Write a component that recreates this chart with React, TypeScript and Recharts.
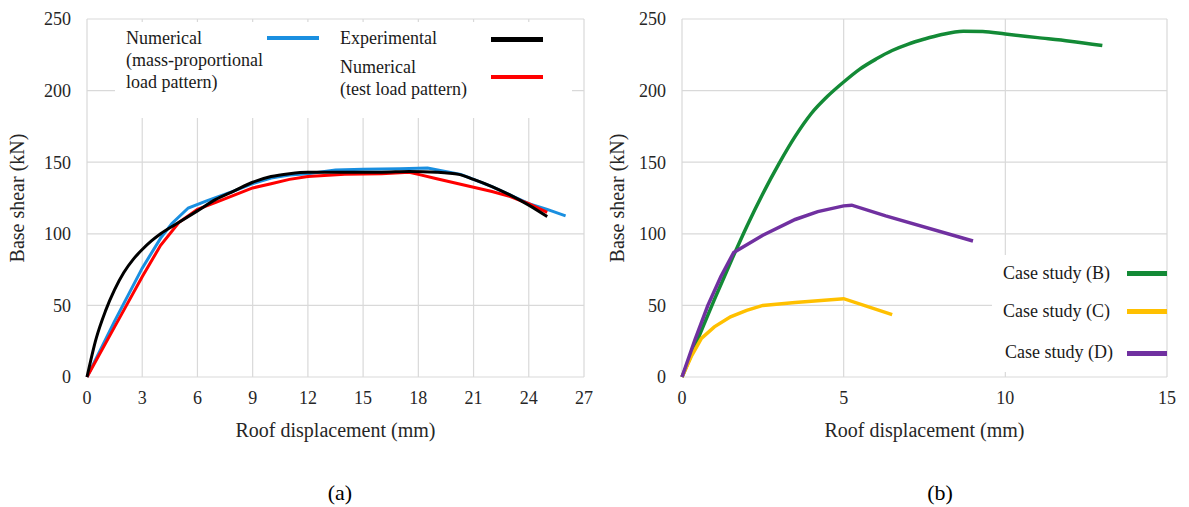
import React from 'react';
import { LineChart, Line, XAxis, YAxis, CartesianGrid } from 'recharts';

// ---------- Data: panel (a) ----------
const expX = [0, 0.5, 1.0, 1.5, 2.0, 2.5, 3.0, 3.5, 4.0, 5.0, 6.0, 7, 8, 9, 10, 11, 12, 14, 16, 17.5, 19, 20.2, 21, 22, 23, 24, 25];
const expY = [0, 27, 46, 61, 73, 82, 89, 95, 100, 108, 116, 124, 130, 136, 140, 142, 143, 143, 143, 143.5, 143, 141.5, 138, 133, 127, 120, 112];

const massX = [0, 1.5, 3, 4, 4.6, 5.5, 6.5, 8, 9, 10, 11, 12, 13.5, 15, 17, 18.5, 20.3, 21, 22, 23, 24, 25, 26];
const massY = [0, 39, 76, 97, 107, 118, 123, 130, 135, 139, 141, 142, 144.5, 145, 145.5, 146, 141.5, 138, 133, 127, 121, 117, 112.5];

const testX = [0, 1.5, 3, 4, 5, 6, 7, 8, 9, 10, 11, 12, 14, 16, 17.5, 18, 19, 20, 21, 22, 23, 24, 25];
const testY = [0, 35, 70, 92, 108, 117, 122, 127, 132, 135, 138, 140, 141.5, 142, 143, 141.5, 138.5, 135.5, 132.5, 129.5, 126, 121, 115];

const ticksA = [0, 3, 6, 9, 12, 15, 18, 21, 24, 27];

// ---------- Data: panel (b) ----------
const caseBX = [0, 0.5, 1, 1.5, 2, 2.5, 3, 3.5, 4, 4.5, 5, 5.5, 6, 6.5, 7, 7.5, 8, 8.7, 9.3, 10, 11, 12, 13];
const caseBY = [0, 27, 54, 80, 105, 128, 149, 168, 184, 196, 206, 215, 222, 228, 232.5, 236, 239, 241.5, 241.3, 239.5, 237, 234.5, 231.5];

const caseCX = [0, 0.3, 0.6, 1, 1.5, 2, 2.5, 3.5, 5, 6.5];
const caseCY = [0, 15, 27, 35, 42, 46.5, 50, 52, 54.7, 43.5];

const caseDX = [0, 0.4, 0.8, 1.2, 1.6, 2.5, 3.5, 4.2, 5.0, 5.25, 6.3, 9.0];
const caseDY = [0, 26, 50, 70, 87, 99, 110, 115.5, 119.5, 120, 112.5, 95];

const ticksB = [0, 5, 10, 15];
const yTicks = [0, 50, 100, 150, 200, 250];

const xTitle = 'Roof displacement (mm)';
const yTitle = 'Base shear (kN)';

const FONT = "'Liberation Serif', 'Times New Roman', serif";
const GRID = '#d9d9d9';
const TXT = '#262626';

const zip = (xs: number[], ys: number[]) => xs.map((x, i) => ({ x, y: ys[i] }));

type S = { data: { x: number; y: number }[]; color: string; type: 'linear' | 'monotone'; width: number };

function Panel(props: { left: number; width: number; xMax: number; xTicks: number[]; series: S[]; marginRight: number; yOff: number }) {
  const { left, width, xMax, xTicks, series, marginRight, yOff } = props;
  return (
    <div style={{ position: 'absolute', left, top: 0 }}>
      <LineChart width={width} height={460} margin={{ top: 19, right: marginRight, bottom: 23, left: 0 }}>
        <CartesianGrid stroke={GRID} strokeWidth={1.2} />
        <XAxis
          type="number"
          dataKey="x"
          domain={[0, xMax]}
          ticks={xTicks}
          interval={0}
          axisLine={false}
          tickLine={false}
          tickSize={0}
          tickMargin={14}
          height={60}
          tick={{ fontSize: 18, fontFamily: FONT, fill: TXT }}
          label={{ value: xTitle, position: 'insideBottom', offset: 0, style: { fontSize: 20, fontFamily: FONT, fill: TXT } }}
        />
        <YAxis
          type="number"
          dataKey="y"
          domain={[0, 250]}
          ticks={yTicks}
          interval={0}
          axisLine={false}
          tickLine={false}
          tickSize={0}
          tickMargin={16}
          width={87}
          tick={{ fontSize: 18, fontFamily: FONT, fill: TXT }}
          label={{ value: yTitle, angle: -90, position: 'insideLeft', offset: yOff, style: { textAnchor: 'middle', fontSize: 20, fontFamily: FONT, fill: TXT } }}
        />
        {series.map((s, i) => (
          <Line
            key={i}
            data={s.data}
            dataKey="y"
            type={s.type}
            stroke={s.color}
            strokeWidth={s.width}
            dot={false}
            activeDot={false}
            isAnimationActive={false}
          />
        ))}
      </LineChart>
    </div>
  );
}

const txt: React.CSSProperties = { position: 'absolute', fontFamily: FONT, fontSize: 18, lineHeight: '22px', color: '#1a1a1a', whiteSpace: 'nowrap' };
const bar = (left: number, top: number, w: number, h: number, color: string): React.CSSProperties => ({ position: 'absolute', left, top, width: w, height: h, background: color });

export default function App() {
  const seriesA: S[] = [
    { data: zip(massX, massY), color: '#1a8fe0', type: 'linear', width: 3 },
    { data: zip(testX, testY), color: '#ff0000', type: 'linear', width: 3 },
    { data: zip(expX, expY), color: '#000000', type: 'monotone', width: 3 },
  ];
  const seriesB: S[] = [
    { data: zip(caseBX, caseBY), color: '#138a36', type: 'monotone', width: 3.5 },
    { data: zip(caseCX, caseCY), color: '#ffc000', type: 'linear', width: 3.5 },
    { data: zip(caseDX, caseDY), color: '#7030a0', type: 'linear', width: 3.5 },
  ];
  return (
    <div style={{ position: 'absolute', left: 0, top: 0, width: 1189, height: 507, background: '#fff', overflow: 'hidden' }}>
      <Panel left={0} width={600} xMax={27} xTicks={ticksA} series={seriesA} marginRight={16} yOff={17} />
      <Panel left={595} width={594} xMax={15} xTicks={ticksB} series={seriesB} marginRight={22} yOff={22} />

      {/* legend (a) */}
      <div style={{ position: 'absolute', left: 115, top: 22, width: 457, height: 96, background: '#fff' }} />
      <div style={{ ...txt, left: 126, top: 27 }}>Numerical<br />(mass-proportional<br />load pattern)</div>
      <div style={bar(267, 36, 52, 4, '#1a8fe0')} />
      <div style={{ ...txt, left: 340, top: 27 }}>Experimental</div>
      <div style={bar(491, 37, 52, 5, '#000000')} />
      <div style={{ ...txt, left: 340, top: 56 }}>Numerical<br />(test load pattern)</div>
      <div style={bar(491, 75, 52, 4, '#ff0000')} />

      {/* legend (b) */}
      <div style={{ position: 'absolute', left: 992, top: 255, width: 174, height: 117, background: '#fff' }} />
      <div style={{ ...txt, right: 1189 - 1110, top: 262 }}>Case study (B)</div>
      <div style={{ ...txt, right: 1189 - 1110, top: 300 }}>Case study (C)</div>
      <div style={{ ...txt, right: 1189 - 1113, top: 341 }}>Case study (D)</div>
      <div style={bar(1127, 271, 40, 4.5, '#138a36')} />
      <div style={bar(1127, 309, 40, 4.5, '#ffc000')} />
      <div style={bar(1127, 351, 40, 4.5, '#7030a0')} />

      {/* captions */}
      <div style={{ ...txt, fontSize: 22, lineHeight: '26px', left: 300, width: 80, textAlign: 'center', top: 480, color: '#000' }}>(a)</div>
      <div style={{ ...txt, fontSize: 22, lineHeight: '26px', left: 900, width: 80, textAlign: 'center', top: 480, color: '#000' }}>(b)</div>
    </div>
  );
}
